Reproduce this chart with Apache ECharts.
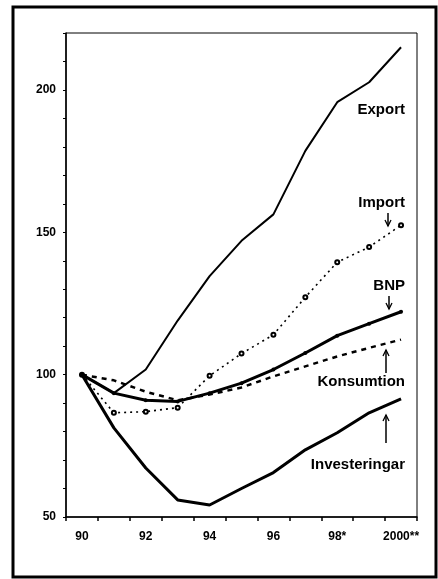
<!DOCTYPE html>
<html lang="sv">
<head>
    <meta charset="UTF-8">
    <title>Index</title>
    <style>
        html, body { margin: 0; padding: 0; background: #fff; }
    </style>
</head>
<body>
    <div id="main" style="width: 438px;height:579px;"></div>
    <script src="https://cdn.jsdelivr.net/npm/echarts@6/dist/echarts.min.js"></script>
    <script>
        var years = ['90', '91', '92', '93', '94', '95', '96', '97', '98*', '99', '2000**'];
        var yTicks = [50, 100, 150, 200];

        var exportData = [100, 93.5, 101.8, 119, 134.6, 147, 156.3, 178.6, 195.7, 202.7, 215];
        var importData = [100, 86.6, 87, 88.4, 99.6, 107.4, 114, 127.2, 139.5, 144.8, 152.5];
        var bnpData = [100, 93.5, 91, 90.6, 93.5, 97, 101.8, 107.6, 113.7, 117.9, 122.1];
        var konsumtionData = [100, 98, 94, 91, 93, 95.5, 99.4, 102.9, 106.4, 109.4, 112.3];
        var investeringarData = [100, 81.3, 67.2, 56, 54.2, 60, 65.6, 73.6, 79.6, 86.6, 91.5];

        var font = '"Liberation Sans", Arial, sans-serif';

        var myChart = echarts.init(document.getElementById('main'));

        // annotation text + arrows (layout only)
        function label(text, x, y) {
            return {
                type: 'text', right: 438 - x, top: y - 9,
                style: { text: text, fill: '#000', font: 'bold 15px ' + font }
            };
        }
        function arrow(x, y1, y2) {
            var dir = y2 > y1 ? -1 : 1;
            return {
                type: 'group', children: [
                    { type: 'line', shape: { x1: x, y1: y1, x2: x, y2: y2 }, style: { stroke: '#000', lineWidth: 1.5 } },
                    { type: 'polyline', shape: { points: [[x - 3, y2 + dir * 6], [x, y2], [x + 3, y2 + dir * 6]] }, style: { stroke: '#000', lineWidth: 1.3, fill: null } }
                ]
            };
        }

        var option = {
            backgroundColor: '#fff',
            animation: false,
            grid: { left: 66, right: 21, top: 33, bottom: 62, show: true, borderColor: '#000', borderWidth: 1 },
            xAxis: {
                type: 'category',
                data: years,
                boundaryGap: true,
                axisLine: { lineStyle: { color: '#000', width: 1.5 } },
                axisTick: { show: true, interval: 0, length: 4, lineStyle: { color: '#000', width: 1.5 } },
                axisLabel: { interval: 1, color: '#000', fontFamily: font, fontWeight: 'bold', fontSize: 12, margin: 14 },
                splitLine: { show: false }
            },
            yAxis: {
                type: 'value',
                min: 50,
                max: 220,
                interval: 10,
                axisLine: { show: true, lineStyle: { color: '#000', width: 1.5 } },
                axisTick: { show: true, length: 3, lineStyle: { color: '#000' } },
                axisLabel: {
                    color: '#000', fontFamily: font, fontWeight: 'bold', fontSize: 12, margin: 10,
                    formatter: function (v) { return yTicks.indexOf(v) >= 0 ? v : ''; }
                },
                splitLine: { show: false }
            },
            series: [
                {
                    name: 'Export', type: 'line', data: exportData,
                    symbol: 'none', lineStyle: { color: '#000', width: 2 }
                },
                {
                    name: 'Import', type: 'line', data: importData,
                    symbol: 'emptyCircle', symbolSize: 4,
                    itemStyle: { color: '#000', borderWidth: 1 },
                    lineStyle: { color: '#000', width: 1.6, type: [2, 4] }
                },
                {
                    name: 'BNP', type: 'line', data: bnpData,
                    symbol: 'circle', symbolSize: 4,
                    itemStyle: { color: '#000' },
                    lineStyle: { color: '#000', width: 3 }
                },
                {
                    name: 'Konsumtion', type: 'line', data: konsumtionData,
                    symbol: 'none', lineStyle: { color: '#000', width: 2.5, type: [5, 5] }
                },
                {
                    name: 'Investeringar', type: 'line', data: investeringarData,
                    symbol: 'none', lineStyle: { color: '#000', width: 3 }
                }
            ],
            graphic: [
                { type: 'rect', shape: { x: 13, y: 7, width: 423, height: 570 }, style: { fill: null, stroke: '#000', lineWidth: 3 }, z: 100 },
                label('Export', 405, 111),
                label('Import', 405, 204),
                arrow(388, 213, 226),
                label('BNP', 405, 287),
                arrow(389, 296, 309),
                label('Konsumtion', 405, 383),
                arrow(386, 373, 350),
                label('Investeringar', 405, 466),
                arrow(386, 443, 415)
            ]
        };

        myChart.setOption(option);
    </script>
</body>
</html>
